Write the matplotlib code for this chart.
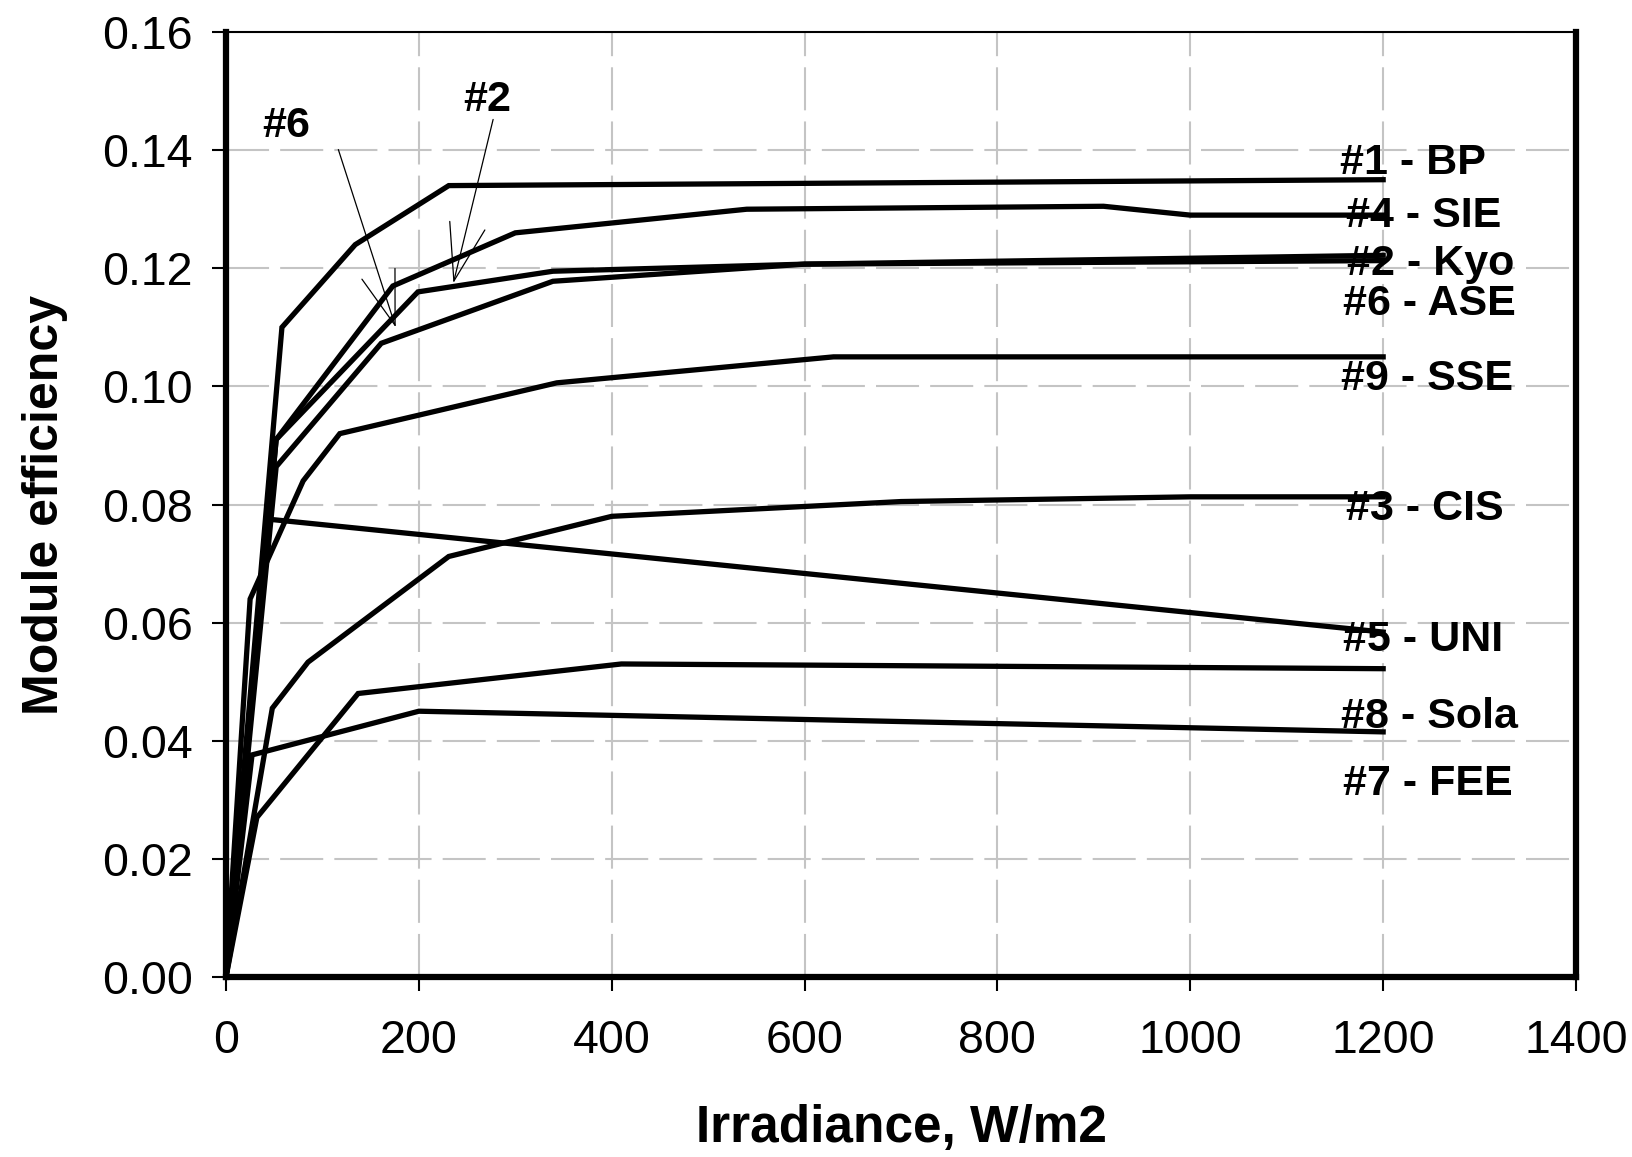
import matplotlib
matplotlib.use('Agg')
import matplotlib.pyplot as plt

# ---- data (irradiance W/m2, module efficiency) ----
irr_bp = [0, 58, 134, 231, 1200]
eff_bp = [0, 0.110, 0.124, 0.134, 0.135]
irr_sie = [0, 52, 173, 300, 540, 910, 1000, 1200]
eff_sie = [0, 0.091, 0.117, 0.126, 0.130, 0.1305, 0.129, 0.129]
irr_kyo = [0, 52, 199, 339, 600, 1200]
eff_kyo = [0, 0.091, 0.116, 0.1195, 0.1207, 0.1222]
irr_ase = [0, 52, 161, 339, 600, 1200]
eff_ase = [0, 0.0864, 0.1073, 0.1178, 0.1207, 0.1213]
irr_sse = [0, 25, 80, 118, 343, 630, 1200]
eff_sse = [0, 0.064, 0.084, 0.092, 0.1006, 0.105, 0.105]
irr_cis = [0, 48, 85, 231, 400, 700, 1000, 1200]
eff_cis = [0, 0.0455, 0.0533, 0.0712, 0.078, 0.0805, 0.0813, 0.0813]
irr_uni = [0, 45, 1200]
eff_uni = [0, 0.0775, 0.0584]
irr_sola = [0, 32, 137, 410, 1200]
eff_sola = [0, 0.027, 0.048, 0.053, 0.0522]
irr_fee = [0, 27, 200, 1200]
eff_fee = [0, 0.0376, 0.045, 0.0415]

series = [(irr_bp, eff_bp), (irr_sie, eff_sie), (irr_kyo, eff_kyo), (irr_ase, eff_ase),
          (irr_sse, eff_sse), (irr_cis, eff_cis), (irr_uni, eff_uni),
          (irr_sola, eff_sola), (irr_fee, eff_fee)]

labels = ['#1 - BP', '#4 - SIE', '#2 - Kyo', '#6 - ASE', '#9 - SSE',
          '#3 - CIS', '#5 - UNI', '#8 - Sola', '#7 - FEE']
label_x = [1155, 1161, 1163, 1158, 1156, 1161, 1158, 1156, 1158]
label_y = [0.1378, 0.1288, 0.1208, 0.1140, 0.1013, 0.0792, 0.0570, 0.0441, 0.0327]

x_ticks = [0, 200, 400, 600, 800, 1000, 1200, 1400]
y_ticks = [0.00, 0.02, 0.04, 0.06, 0.08, 0.10, 0.12, 0.14, 0.16]

plt.rcParams['font.family'] = ['Liberation Sans', 'DejaVu Sans']

fig = plt.figure(figsize=(16.33, 11.57), dpi=100)
ax = fig.add_axes([0.1384, 0.1556, 0.9651 - 0.1384, 0.9723 - 0.1556])

for xs, ys in series:
    ax.plot(xs, ys, color='black', lw=3.8, solid_joinstyle='miter', zorder=3)

ax.set_xlim(0, 1400)
ax.set_ylim(0, 0.16)
ax.set_xticks(x_ticks)
ax.set_yticks(y_ticks)
ax.set_yticklabels([f'{v:.2f}' for v in y_ticks])
ax.tick_params(axis='both', direction='out', length=10, width=1.5,
               labelsize=33.5, colors='black')
ax.tick_params(axis='y', pad=14)
ax.tick_params(axis='x', pad=20)

lw_g = 1.5
ax.grid(True, color='#c4c4c4', lw=lw_g, linestyle=(0, (31 / lw_g, 8 / lw_g)), zorder=0)
ax.set_axisbelow(True)

for s in ['left', 'bottom', 'right']:
    ax.spines[s].set_linewidth(4.5)
ax.spines['top'].set_linewidth(1.5)

ax.set_xlabel('Irradiance, W/m2', fontsize=37, fontweight='bold', labelpad=30)
ax.set_ylabel('Module efficiency', fontsize=36, fontweight='bold', labelpad=24)

for t, xx, yy in zip(labels, label_x, label_y):
    ax.text(xx, yy, t, fontsize=31, fontweight='bold', ha='left', va='center', zorder=4)

ax.annotate('', xy=(176, 0.110), xytext=(116.5, 0.1401), textcoords='data',
            arrowprops=dict(arrowstyle='->,head_length=3.9,head_width=1.25', lw=0.9,
                            color='black', shrinkA=0, shrinkB=0, mutation_scale=10))
ax.text(62.5, 0.1441, '#6', fontsize=31, fontweight='bold', ha='center', va='center')

ax.annotate('', xy=(235.8, 0.1175), xytext=(277, 0.1452), textcoords='data',
            arrowprops=dict(arrowstyle='->,head_length=4.1,head_width=1.3', lw=0.9,
                            color='black', shrinkA=0, shrinkB=0, mutation_scale=10))
ax.text(271, 0.1485, '#2', fontsize=31, fontweight='bold', ha='center', va='center')

fig.savefig('out.png', dpi=100)
